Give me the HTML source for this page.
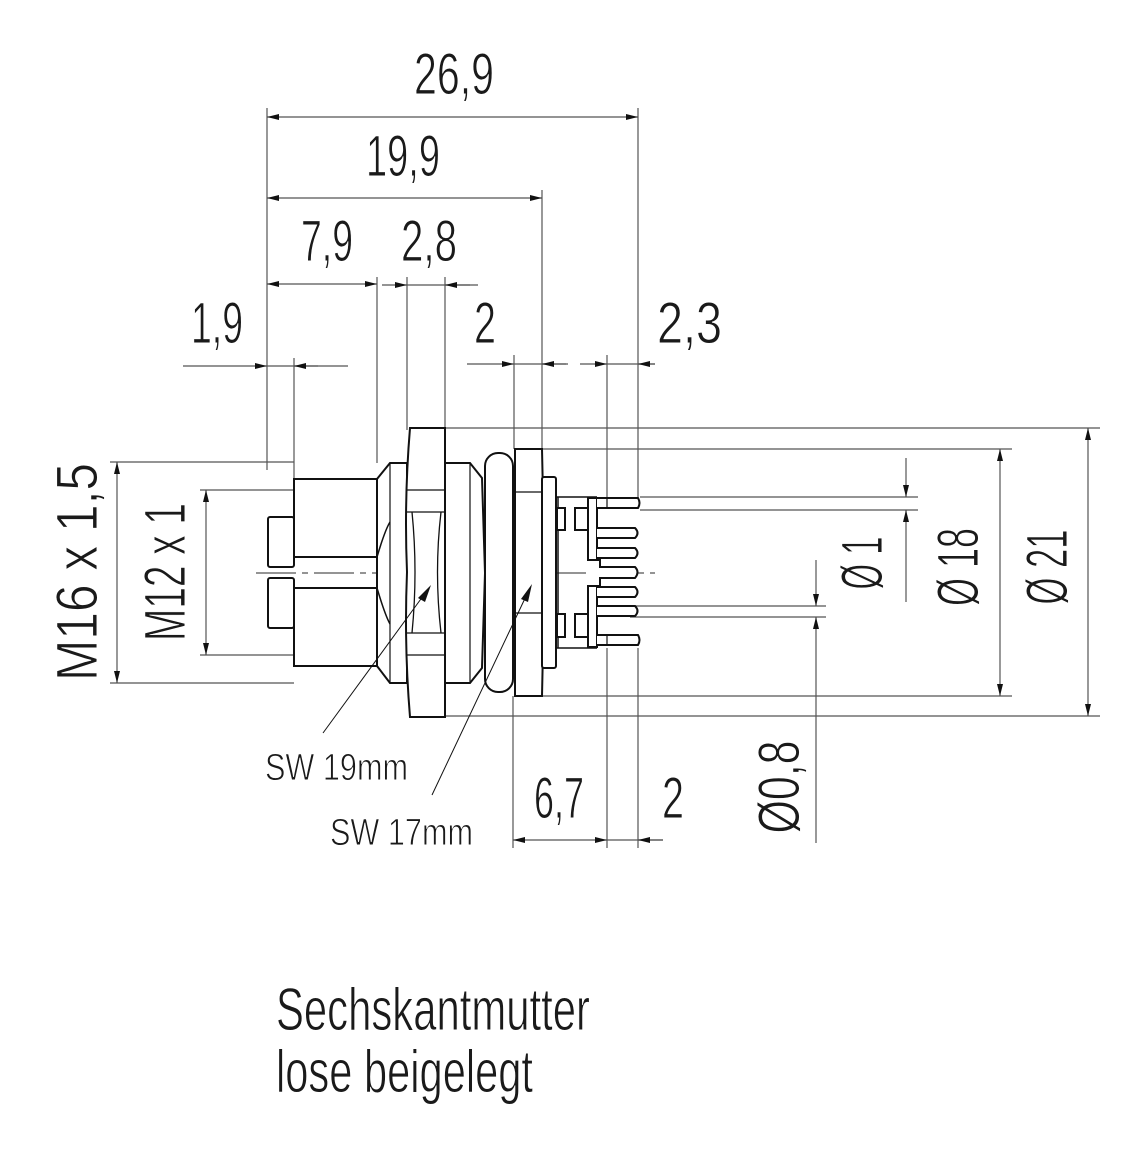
<!DOCTYPE html>
<html><head><meta charset="utf-8"><style>
html,body{margin:0;padding:0;background:#fff}
svg{display:block}
text{font-family:"Liberation Sans Narrow","Liberation Sans",sans-serif;fill:#1a1a1a;stroke:#fff;stroke-width:0.9}
</style></head><body>
<svg width="1145" height="1161" viewBox="0 0 1145 1161" xmlns="http://www.w3.org/2000/svg">
<defs>
<marker id="a" viewBox="0 0 12 6" refX="12" refY="3" markerWidth="12" markerHeight="6" orient="auto-start-reverse" markerUnits="userSpaceOnUse"><path d="M0,0 L12,3 L0,6 z" fill="#111"/></marker>
</defs>
<g stroke="#555" stroke-width="1.2" fill="none">
<line x1="267" y1="108" x2="267" y2="470"/>
<line x1="638" y1="108" x2="638" y2="500"/>
<line x1="542" y1="190" x2="542" y2="449"/>
<line x1="377" y1="277" x2="377" y2="463"/>
<line x1="407" y1="277" x2="407" y2="430"/>
<line x1="445" y1="277" x2="445" y2="430"/>
<line x1="294" y1="358" x2="294" y2="479"/>
<line x1="514" y1="355" x2="514" y2="449"/>
<line x1="607" y1="355" x2="607" y2="500"/>
<line x1="513" y1="696" x2="513" y2="848"/>
<line x1="607" y1="648" x2="607" y2="848"/>
<line x1="638" y1="648" x2="638" y2="848"/>
<line x1="267" y1="117" x2="638" y2="117" marker-start="url(#a)" marker-end="url(#a)"/>
<line x1="267" y1="198" x2="542" y2="198" marker-start="url(#a)" marker-end="url(#a)"/>
<line x1="267" y1="284" x2="377" y2="284" marker-start="url(#a)" marker-end="url(#a)"/>
<line x1="382" y1="285" x2="407" y2="285" marker-end="url(#a)"/>
<line x1="407" y1="285" x2="478" y2="285"/>
<line x1="445" y1="285" x2="470" y2="285" marker-start="url(#a)"/>
<line x1="183" y1="366" x2="267" y2="366" marker-end="url(#a)"/>
<line x1="267" y1="366" x2="348" y2="366"/>
<line x1="294" y1="366" x2="318" y2="366" marker-start="url(#a)"/>
<line x1="467" y1="364" x2="514" y2="364" marker-end="url(#a)"/>
<line x1="514" y1="364" x2="568" y2="364"/>
<line x1="542" y1="364" x2="566" y2="364" marker-start="url(#a)"/>
<line x1="580" y1="364" x2="607" y2="364" marker-end="url(#a)"/>
<line x1="607" y1="364" x2="655" y2="364"/>
<line x1="638" y1="364" x2="655" y2="364" marker-start="url(#a)"/>
<line x1="513" y1="840" x2="607" y2="840" marker-start="url(#a)" marker-end="url(#a)"/>
<line x1="607" y1="840" x2="663" y2="840"/>
<line x1="638" y1="840" x2="663" y2="840" marker-start="url(#a)"/>
<line x1="445" y1="428" x2="1100" y2="428"/>
<line x1="445" y1="716" x2="1100" y2="716"/>
<line x1="542" y1="449" x2="1012" y2="449"/>
<line x1="542" y1="696" x2="1012" y2="696"/>
<line x1="640" y1="497" x2="918" y2="497"/>
<line x1="640" y1="510" x2="918" y2="510"/>
<line x1="630" y1="606" x2="826" y2="606"/>
<line x1="630" y1="617" x2="826" y2="617"/>
<line x1="1088" y1="428" x2="1088" y2="716" marker-start="url(#a)" marker-end="url(#a)"/>
<line x1="1000" y1="449" x2="1000" y2="696" marker-start="url(#a)" marker-end="url(#a)"/>
<line x1="906" y1="458" x2="906" y2="497" marker-end="url(#a)"/>
<line x1="906" y1="510" x2="906" y2="602" marker-start="url(#a)"/>
<line x1="816" y1="560" x2="816" y2="606" marker-end="url(#a)"/>
<line x1="816" y1="617" x2="816" y2="843" marker-start="url(#a)"/>
<line x1="110" y1="462" x2="294" y2="462"/>
<line x1="110" y1="683" x2="294" y2="683"/>
<line x1="200" y1="490" x2="294" y2="490"/>
<line x1="200" y1="655" x2="294" y2="655"/>
<line x1="117" y1="462" x2="117" y2="683" marker-start="url(#a)" marker-end="url(#a)"/>
<line x1="206" y1="490" x2="206" y2="655" marker-start="url(#a)" marker-end="url(#a)"/>
<line x1="256" y1="573" x2="655" y2="573" stroke-dasharray="40,6,6,6"/>
</g>
<g stroke="#111" stroke-width="2" fill="#fff">
<rect x="268" y="517" width="26" height="50" rx="2"/>
<rect x="268" y="578" width="26" height="50" rx="2"/>
<rect x="294" y="479" width="83" height="78"/>
<rect x="294" y="588" width="83" height="78"/>
<path d="M377,479 L390,463 L407,463 L407,683 L390,683 L377,666 Z"/>
<path d="M377,557 Q385,530 390,522 M377,588 Q385,615 390,624" fill="none" stroke-width="1.5"/>
<line x1="390" y1="463" x2="390" y2="683" stroke-width="1.2"/>
<path d="M445,463 L470,463 L482,478 L485,573 L482,668 L470,683 L445,683 Z"/>
<line x1="470" y1="463" x2="470" y2="683" stroke-width="1.2"/>
<path d="M410,428 L445,428 L445,717 L410,717 Q404,645 407,572 Q404,500 410,428 Z"/>
<path d="M407,490 L445,490 M407,512 L445,512 M407,633 L445,633 M407,655 L445,655 M412,512 Q418,572 412,633 M441,512 Q434,572 441,633" fill="none" stroke-width="1.3"/>
<rect x="485" y="453" width="28" height="239" rx="13"/>
<path d="M515,449 L542,449 Q545,572 542,696 L515,696 Z"/>
<path d="M513,492 L542,492 M513,613 L542,613" fill="none" stroke-width="1.3"/>
<rect x="542" y="477" width="14" height="191" rx="2"/>
<path d="M556,497 L597,497 M556,648 L597,648 M558,497 L558,648" fill="none" stroke-width="1.5"/>
<rect x="557" y="508" width="8" height="22"/>
<rect x="575" y="508" width="13" height="22"/>
<rect x="557" y="614" width="8" height="23"/>
<rect x="575" y="614" width="13" height="23"/>
<rect x="588" y="498" width="9" height="62"/>
<rect x="588" y="586" width="9" height="61"/>
<path d="M597,498 L638,498 Q641,503 638,508 L597,508" />
<path d="M597,528 L635,528 Q640,533 635,538 L597,538"/>
<path d="M597,548 L635,548 Q640,553 635,558 L597,558"/>
<path d="M590,560 L600,560 L600,567 L635,567 Q640,572 635,578 L600,578 L600,586 L590,586"/>
<path d="M597,587 L635,587 Q640,592 635,597 L597,597"/>
<path d="M597,606 L635,606 Q640,611 635,616 L597,616"/>
<path d="M597,635 L638,635 Q641,640 638,645 L597,645"/>
<line x1="607" y1="498" x2="607" y2="508" stroke-width="1.2"/>
<line x1="607" y1="635" x2="607" y2="645" stroke-width="1.2"/>
</g>
<g stroke="#111" stroke-width="1">
<line x1="323" y1="733" x2="426" y2="592"/>
<line x1="432" y1="795" x2="528" y2="592"/>
</g>
<path d="M431,585 L418,598 L425,602 Z" fill="#111"/>
<path d="M532,584 L521,599 L528,602 Z" fill="#111"/>
<g font-size="58">
<text x="414" y="94" textLength="80" lengthAdjust="spacingAndGlyphs">26,9</text>
<text x="366" y="176" textLength="74" lengthAdjust="spacingAndGlyphs">19,9</text>
<text x="301" y="261" textLength="52" lengthAdjust="spacingAndGlyphs">7,9</text>
<text x="401" y="261" textLength="56" lengthAdjust="spacingAndGlyphs">2,8</text>
<text x="191" y="343" textLength="52" lengthAdjust="spacingAndGlyphs">1,9</text>
<text x="474" y="343" textLength="22" lengthAdjust="spacingAndGlyphs">2</text>
<text x="657" y="343" textLength="65" lengthAdjust="spacingAndGlyphs">2,3</text>
<text x="534" y="818" textLength="50" lengthAdjust="spacingAndGlyphs">6,7</text>
<text x="662" y="818" textLength="22" lengthAdjust="spacingAndGlyphs">2</text>
<text transform="translate(97,572) rotate(-90)" text-anchor="middle" textLength="218" lengthAdjust="spacingAndGlyphs">M16 x 1,5</text>
<text transform="translate(185,572) rotate(-90)" text-anchor="middle" textLength="138" lengthAdjust="spacingAndGlyphs">M12 x 1</text>
<text transform="translate(882,563) rotate(-90)" text-anchor="middle" textLength="53" lengthAdjust="spacingAndGlyphs">Ø 1</text>
<text transform="translate(978,567) rotate(-90)" text-anchor="middle" textLength="78" lengthAdjust="spacingAndGlyphs">Ø 18</text>
<text transform="translate(1067,567) rotate(-90)" text-anchor="middle" textLength="75" lengthAdjust="spacingAndGlyphs">Ø 21</text>
<text transform="translate(799,787) rotate(-90)" text-anchor="middle" textLength="93" lengthAdjust="spacingAndGlyphs">Ø0,8</text>
</g>
<text x="265" y="780" font-size="38" textLength="143" lengthAdjust="spacingAndGlyphs">SW 19mm</text>
<text x="330" y="845" font-size="38" textLength="143" lengthAdjust="spacingAndGlyphs">SW 17mm</text>
<text x="276" y="1030" font-size="60" textLength="314" lengthAdjust="spacingAndGlyphs">Sechskantmutter</text>
<text x="276" y="1092" font-size="60" textLength="257" lengthAdjust="spacingAndGlyphs">lose beigelegt</text>
</svg>
</body></html>
